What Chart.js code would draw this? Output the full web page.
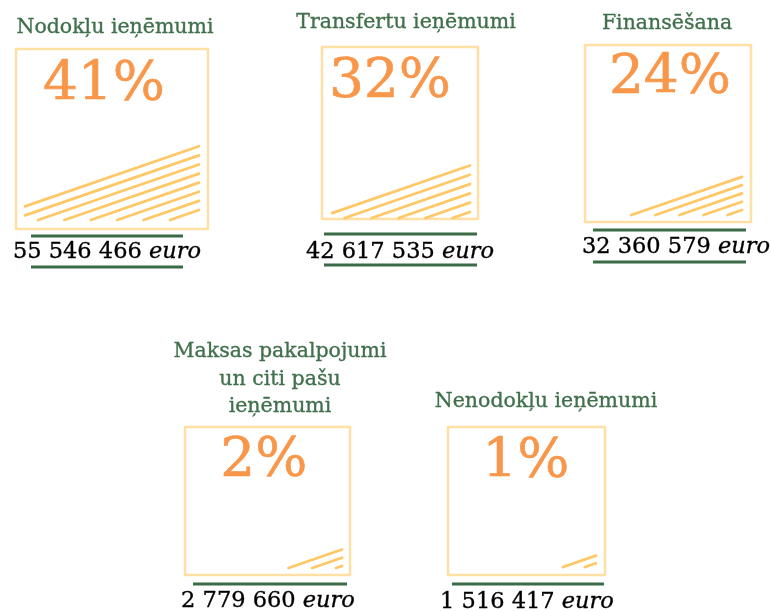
<!DOCTYPE html>
<html>
<head>
<meta charset="utf-8">
<script src="https://cdn.jsdelivr.net/npm/chart.js@4"></script>
<style>
    body {margin: 0; background: #ffffff;}
    #wrap {position: relative; width: 771px; height: 611px; overflow: hidden;}
    #wrap canvas {position: absolute; left: 0; top: 0;}
</style>
</head>
<body>
<div id="wrap"></div>
<script>
const titles = [
    ['Nodokļu ieņēmumi'],
    ['Transfertu ieņēmumi'],
    ['Finansēšana'],
    ['Maksas pakalpojumi', 'un citi pašu', 'ieņēmumi'],
    ['Nenodokļu ieņēmumi']
];
const shares = [41, 32, 24, 2, 1];
const amounts = [55546466, 42617535, 32360579, 2779660, 1516417];
const hatchRows = [8, 6, 5, 3, 2];

const W = 771, H = 611;
const serif = '"DejaVu Serif", serif';
const green = '#41704C';
const slope = 0.345;

// page layout of each panel (box, hatch zone, text anchors)
const panels = [
    {box: [16, 49, 192, 180], hl: 25, hr: 199, hb: 220, sp: 9.1, ph: 1.1,
        pct: [104, 100], title: [115, [33]], amt: [107, 258], rules: [31, 183, [236, 267]]},
    {box: [322, 47, 156, 172], hl: 332, hr: 470, hb: 218, sp: 9.3, ph: 0.65,
        pct: [390, 97], title: [406, [28]], amt: [400, 258], rules: [324, 477, [234, 265]]},
    {box: [585, 45, 166, 177], hl: 594, hr: 742, hb: 215, sp: 8.3, ph: 0.6,
        pct: [670, 93], title: [667, [29]], amt: [676, 253], rules: [593, 746, [230, 262]]},
    {box: [185, 427, 165, 148], hl: 194, hr: 342, hb: 568, sp: 8.2, ph: 0.25,
        pct: [264, 476], title: [280, [357, 385, 412]], amt: [268, 607], rules: [193, 347, [584]]},
    {box: [448, 427, 157, 148], hl: 457, hr: 596, hb: 567, sp: 7.6, ph: 0.5,
        pct: [526, 477], title: [546, [407]], amt: [527, 608], rules: [452, 604, [584]]}
];

function fmt(n) {
    return String(n).replace(/\B(?=(\d{3})+(?!\d))/g, ' ');
}

function text(ctx, s, x, y, color, weight) {
    ctx.fillStyle = color;
    ctx.strokeStyle = color;
    ctx.lineWidth = weight;
    ctx.fillText(s, x, y);
    ctx.strokeText(s, x, y);
}

function makePanel(i) {
    const g = panels[i];
    const rows = hatchRows[i];
    const top = g.hb - (rows - 1 + g.ph) * g.sp;

    const drawer = {
        id: 'infoPanel' + i,
        afterDraw: (chart) => {
            const {ctx, chartArea: a, scales: {x, y}} = chart;
            ctx.save();
            ctx.lineJoin = 'round';

            // title
            ctx.font = '20.5px ' + serif;
            ctx.textAlign = 'center';
            ctx.textBaseline = 'alphabetic';
            titles[i].forEach((line, k) => text(ctx, line, g.title[0], g.title[1][k], green, 0.35));

            // box
            ctx.strokeStyle = '#FFDFA3';
            ctx.lineWidth = 2.5;
            ctx.strokeRect(g.box[0], g.box[1], g.box[2], g.box[3]);

            // percentage
            ctx.font = '55px ' + serif;
            text(ctx, shares[i] + '%', g.pct[0], g.pct[1], '#F8964A', 0.6);

            // hatch lines, parallel, ending on the bottom or left edge of the zone
            ctx.strokeStyle = '#FFC866';
            ctx.lineWidth = 2.8;
            ctx.lineCap = 'round';
            for (let k = 0; k < rows; k++) {
                const px = x.getPixelForValue(1);
                const py = y.getPixelForValue(g.ph + k);
                let lx = px - (a.bottom - py) / slope;
                let ly = a.bottom;
                if (lx < a.left) {
                    lx = a.left;
                    ly = py + (px - a.left) * slope;
                }
                ctx.beginPath();
                ctx.moveTo(lx, ly);
                ctx.lineTo(px, py);
                ctx.stroke();
            }
            ctx.lineCap = 'butt';

            // green rules
            ctx.strokeStyle = '#3B6A46';
            ctx.lineWidth = 3;
            g.rules[2].forEach(ry => {
                ctx.beginPath();
                ctx.moveTo(g.rules[0], ry);
                ctx.lineTo(g.rules[1], ry);
                ctx.stroke();
            });

            // amount
            const num = fmt(amounts[i]) + ' ';
            ctx.textAlign = 'left';
            ctx.font = '22.5px ' + serif;
            const w1 = ctx.measureText(num).width;
            ctx.font = 'italic 22.5px ' + serif;
            const w2 = ctx.measureText('euro').width;
            const sx = g.amt[0] - (w1 + w2) / 2;
            ctx.font = '22.5px ' + serif;
            text(ctx, num, sx, g.amt[1], '#000000', 0.35);
            ctx.font = 'italic 22.5px ' + serif;
            text(ctx, 'euro', sx + w1, g.amt[1], '#000000', 0.35);

            ctx.restore();
        }
    };

    const canvas = document.createElement('canvas');
    canvas.width = W;
    canvas.height = H;
    document.getElementById('wrap').appendChild(canvas);

    new Chart(canvas.getContext('2d'), {
        type: 'scatter',
        data: {
            datasets: [{
                label: titles[i].join(' '),
                data: [],
                pointRadius: 0
            }]
        },
        options: {
            responsive: false,
            animation: false,
            events: [],
            layout: {
                padding: {left: g.hl, right: W - g.hr, top: top, bottom: H - g.hb}
            },
            scales: {
                x: {type: 'linear', display: false, min: 0, max: 1},
                y: {type: 'linear', display: false, min: 0, max: rows - 1 + g.ph}
            },
            plugins: {
                legend: {display: false},
                tooltip: {enabled: false}
            }
        },
        plugins: [drawer]
    });
}

panels.forEach((p, i) => makePanel(i));
</script>
</body>
</html>
